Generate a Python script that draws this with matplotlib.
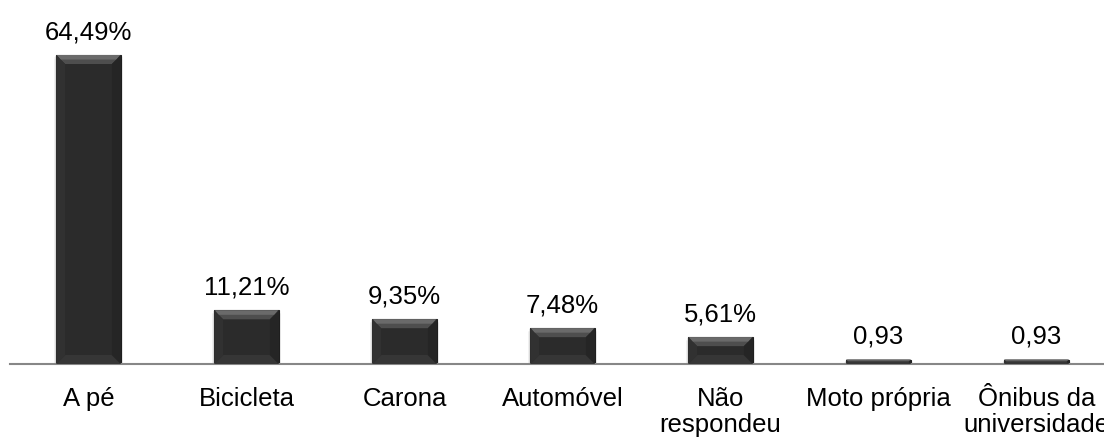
import matplotlib
matplotlib.use("Agg")
import matplotlib.pyplot as plt
from matplotlib.patches import Polygon
import numpy as np

categories = ["A pé", "Bicicleta", "Carona", "Automóvel", "Não\nrespondeu",
              "Moto própria", "Ônibus da\nuniversidade"]
values = [64.49, 11.21, 9.35, 7.48, 5.61, 0.93, 0.93]
value_labels = ["64,49%", "11,21%", "9,35%", "7,48%", "5,61%", "0,93", "0,93"]

plt.rcParams['font.family'] = ['Liberation Sans', 'DejaVu Sans']

W, H = 1104, 441
base_px = 364
px_per_unit = 309 / 64.49
ymax = 75
fig = plt.figure(figsize=(W / 100, H / 100), dpi=100)
ax = fig.add_axes([9.5 / W, (H - base_px) / H, 1106 / W, px_per_unit * ymax / H])

x = np.arange(len(categories))
bar_w = 0.41
ax.set_xlim(-0.5, len(categories) - 0.5)
ax.set_ylim(0, ymax)

# soft shadow
for xi, v in zip(x, values):
    for k, a in enumerate([0.25, 0.18, 0.1]):
        ax.bar(xi, v, width=bar_w * (1.02 + 0.03 * k), bottom=-0.25 - 0.25 * k,
               color="#c8c8c8", alpha=a, zorder=1, linewidth=0)
bars = ax.bar(x, values, width=bar_w, color="#2b2b2b", edgecolor="#1e1e1e", linewidth=0.8, zorder=2)

# bevel highlights (computed from bar geometry)
fig.canvas.draw()
inv = ax.transData.inverted()
for b in bars:
    (x0, y0), (x1, y1) = ax.transData.transform([(b.get_x(), 0), (b.get_x() + b.get_width(), b.get_height())])
    d = min(9, (y1 - y0) / 2.0)
    top = [(x0, y1), (x1, y1), (x1 - d, y1 - d), (x0 + d, y1 - d)]
    top2 = [(x0 + 1, y1), (x1 - 1, y1), (x1 - d * 0.5, y1 - d * 0.5), (x0 + d * 0.5, y1 - d * 0.5)]
    bot = [(x0, y0), (x1, y0), (x1 - d, y0 + d), (x0 + d, y0 + d)]
    left = [(x0, y0), (x0 + d, y0 + d), (x0 + d, y1 - d), (x0, y1)]
    right = [(x1, y0), (x1 - d, y0 + d), (x1 - d, y1 - d), (x1, y1)]
    for pts, col in [(top, "#4e4e4e"), (top2, "#6a6a6a"), (bot, "#363636"),
                     (left, "#313131"), (right, "#252525")]:
        ax.add_patch(Polygon(inv.transform(pts), closed=True, facecolor=col, edgecolor="none", zorder=3))

for xi, v, lab in zip(x, values, value_labels):
    ax.annotate(lab, (xi, v), xytext=(0, 11.5), textcoords="offset points",
                ha="center", va="baseline", fontsize=18.5, color="#000000")

ax.set_xticks(x)
ax.set_xticklabels(categories, fontsize=18.5, linespacing=1.12)
ax.tick_params(axis="x", length=0, pad=16.5)
ax.set_yticks([])
for s in ["top", "right", "left"]:
    ax.spines[s].set_visible(False)
ax.spines["bottom"].set_color("#878787")
ax.spines["bottom"].set_linewidth(1.5)

fig.savefig("out.png", dpi=100)
